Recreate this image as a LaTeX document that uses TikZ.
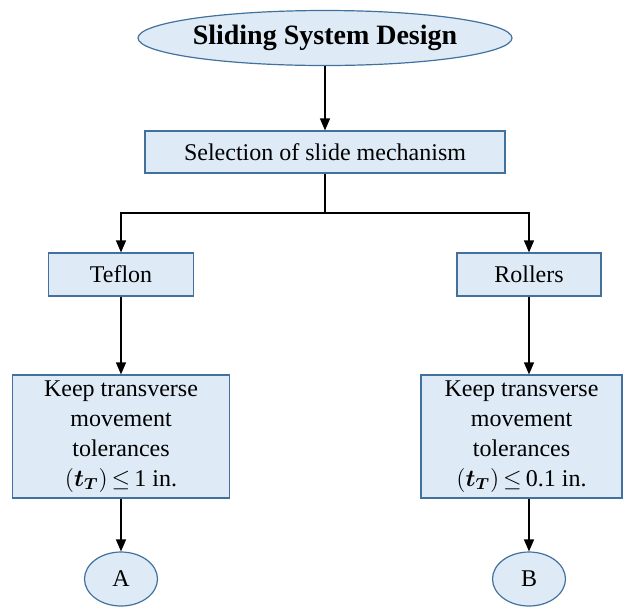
\documentclass[tikz,border=0pt]{standalone}
\usepackage{amsmath}
\usepackage{fontspec}
\setmainfont{Liberation Serif}
\newfontfamily\tnr{Liberation Serif}
\usetikzlibrary{shapes.geometric,arrows.meta}
\definecolor{boxfill}{RGB}{222,235,247}
\definecolor{boxline}{RGB}{65,113,156}
\tikzset{
  base/.style={draw=boxline, fill=boxfill, line width=0.6pt, inner sep=0pt, align=center,
    font=\tnr\fontsize{12}{15}\selectfont},
  rbox/.style={base, rectangle},
  oval/.style={base, ellipse},
  conn/.style={line width=0.65pt, black},
  arr/.style={conn, -{Triangle[length=6pt,width=5pt]}}
}
\begin{document}
\begin{tikzpicture}[x=0.5pt,y=-0.5pt]
\useasboundingbox (0,0) rectangle (626,607);
\node[oval, minimum width=179.5pt, minimum height=27.5pt, font=\tnr\fontsize{14}{16}\selectfont\bfseries] (title) at (325,38) {Sliding System Design};
\node[rbox, minimum width=180pt, minimum height=21pt] (sel) at (325,152) {Selection of slide mechanism};
\node[rbox, minimum width=72.5pt, minimum height=21.5pt] (teflon) at (121,274.5) {Teflon};
\node[rbox, minimum width=72pt, minimum height=21.5pt] (rollers) at (529,274.5) {Rollers};
\node[rbox, minimum width=108.5pt, minimum height=61.5pt] (keepL) at (121,436.5) {Keep transverse\\movement\\tolerances\\$(\boldsymbol{t}_{\boldsymbol{T}})$\,$\leq$\,1 in.};
\node[rbox, minimum width=100.5pt, minimum height=61.5pt] (keepR) at (521.5,436.5) {Keep transverse\\movement\\tolerances\\$(\boldsymbol{t}_{\boldsymbol{T}})$\,$\leq$\,0.1 in.};
\node[oval, minimum width=36.5pt, minimum height=27pt] (A) at (121,579) {A};
\node[oval, minimum width=36.5pt, minimum height=27pt] (B) at (529,579) {B};
\coordinate (split) at (325,213);
\draw[arr] (title.south) -- (sel.north);
\draw[conn] (sel.south) -- (split);
\draw[arr] (split) -| (teflon.north);
\draw[arr] (split) -| (rollers.north);
\draw[arr] (teflon.south) -- (keepL.north);
\draw[arr] (rollers.south) -- (rollers.south |- keepR.north);
\draw[arr] (keepL.south) -- (A.north);
\draw[arr] (keepR.south -| B.north) -- (B.north);
\end{tikzpicture}
\end{document}
